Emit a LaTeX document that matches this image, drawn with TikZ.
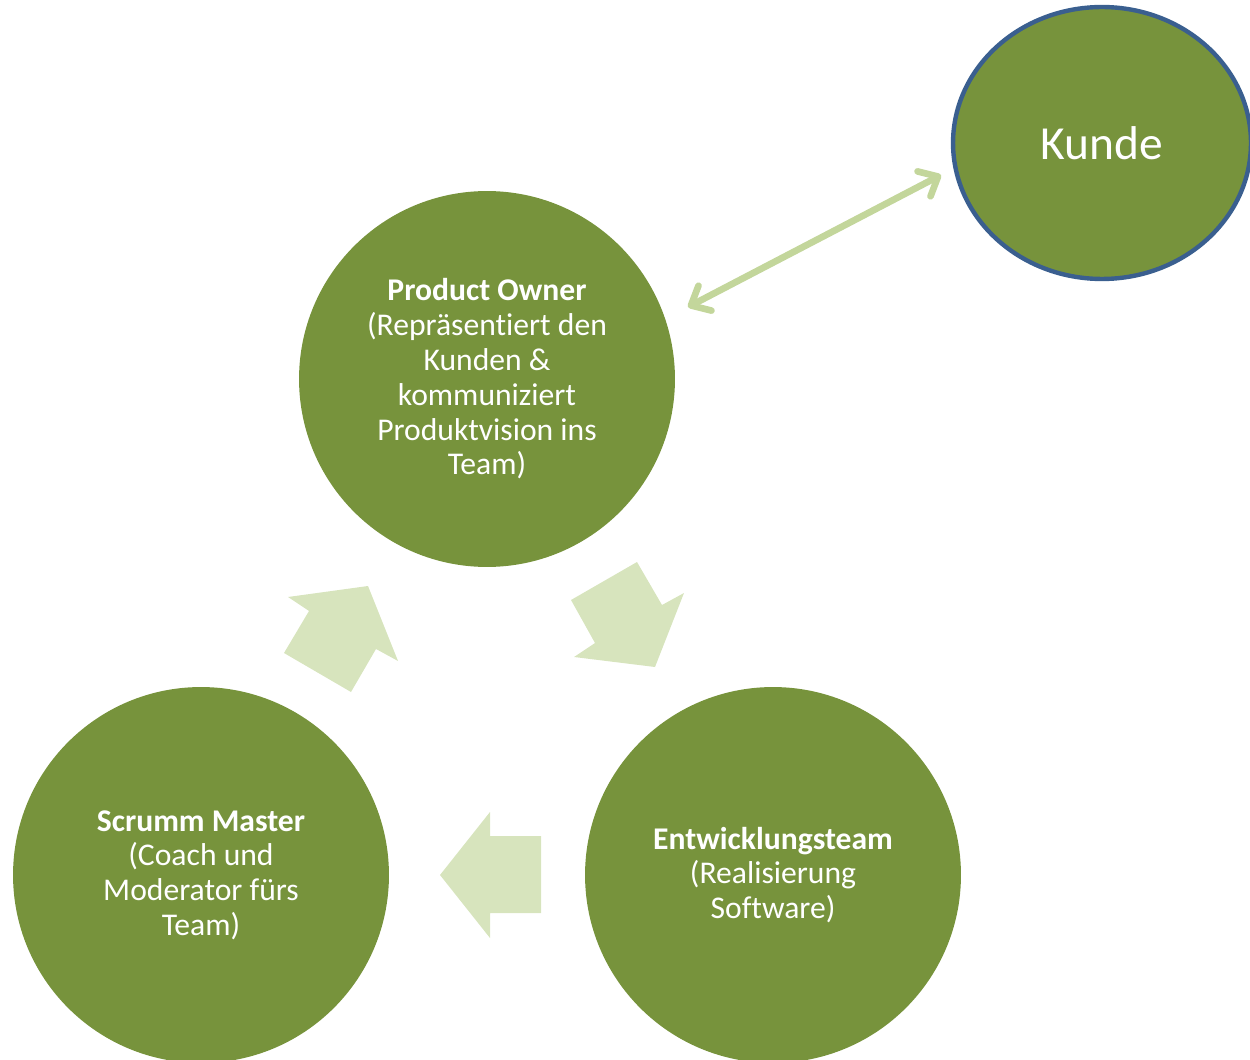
\documentclass[tikz,border=0pt]{standalone}
\usepackage{fontspec}
\setmainfont{Carlito}[Ligatures=NoCommon]
\usetikzlibrary{arrows.meta,shapes.geometric}
\definecolor{olive}{HTML}{77933C}
\definecolor{paleg}{HTML}{D7E4BD}
\definecolor{lineg}{HTML}{C3D69B}
\definecolor{edgeblue}{HTML}{3A5F8F}
\tikzset{
  role/.style={circle, fill=olive, minimum size=7.52cm, inner sep=0pt, text=white, align=center,
    font=\fontsize{18}{19.8}\selectfont},
  blockarrow/.style={fill=paleg, draw=none},
  link/.style={draw=lineg, line width=3.8pt, line cap=round,
    {Straight Barb[round, length=9pt, width=16pt]}-{Straight Barb[round, length=9pt, width=16pt]}}
}
\begin{document}
\begin{tikzpicture}[x=0.02cm, y=-0.02cm]
\useasboundingbox (0,0) rectangle (1250,1060);
\begin{scope}
\clip (0,0) rectangle (1250,1060);
\node[role] (po) at (487,379) {\textbf{Product Owner}\\(Repräsentiert den\\Kunden \&\\kommuniziert\\Produktvision ins\\Team)};
\node[role] (sm) at (201,875) {\textbf{Scrumm Master}\\(Coach und\\Moderator fürs\\Team)};
\node[role] (et) at (773,875) {\textbf{Entwicklungsteam}\\(Realisierung\\Software)};
\node[ellipse, fill=olive, draw=edgeblue, line width=2.5pt, minimum width=5.96cm, minimum height=5.44cm,
  inner sep=0pt, text=white, font=\fontsize{27}{32}\selectfont] (kunde) at (1102,143) {Kunde};
\end{scope}
% block arrows
\fill[blockarrow] (368,586) -- (398,661) -- (376,649) -- (351,692) -- (284,653) -- (309,611) -- (288,597) -- cycle;
\fill[blockarrow] (637,562) -- (662,605) -- (684,593) -- (655,667) -- (574,657) -- (595,643) -- (571,600) -- cycle;
\fill[blockarrow] (440,875) -- (490,812) -- (490,836) -- (541,836) -- (541,913) -- (490,913) -- (490,938) -- cycle;
% double arrow
\coordinate (a1) at (688,307);
\coordinate (a2) at (941,175);
\draw[link] (a1) -- (a2);
\end{tikzpicture}
\end{document}
